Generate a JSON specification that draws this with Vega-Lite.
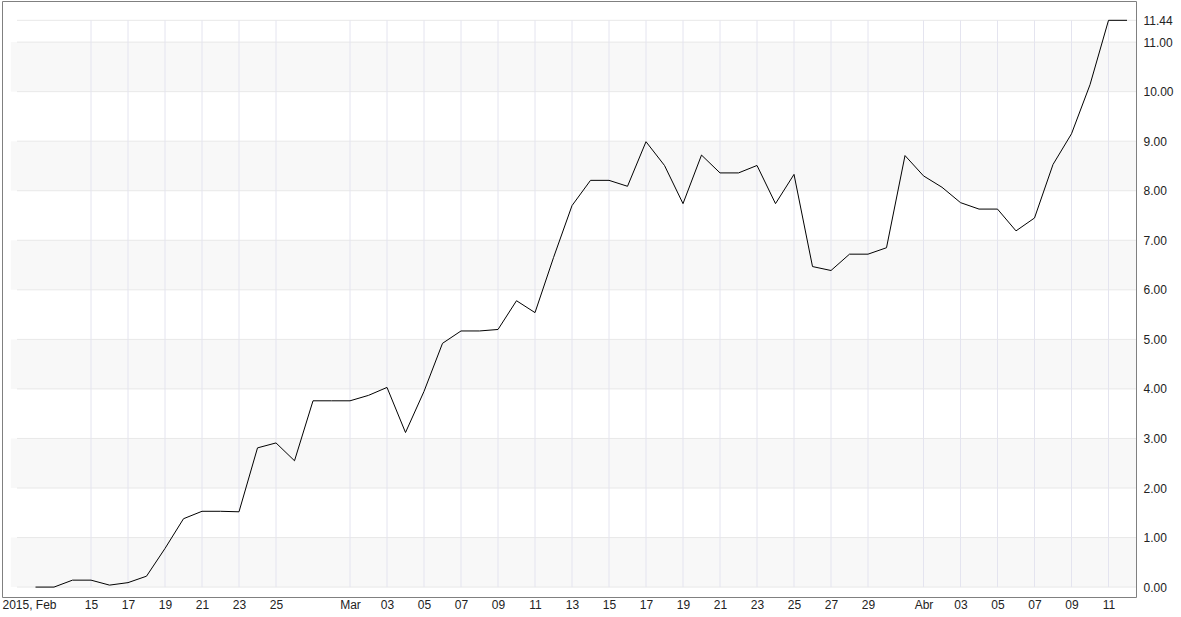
{
  "$schema": "https://vega.github.io/schema/vega-lite/v6.json",
  "width": 1134,
  "height": 596,
  "autosize": {"type": "none"},
  "padding": {"left": 2, "top": 1, "right": 45, "bottom": 20},
  "background": "white",
  "config": {
    "view": {"stroke": "#808080", "strokeWidth": 1},
    "font": "Liberation Sans",
    "axis": {"labelFont": "Liberation Sans", "labelFontSize": 12, "labelColor": "#222222"}
  },
  "datasets": {
    "series": [
      {"date": "2015-02-12", "v": 0.00},
      {"date": "2015-02-13", "v": 0.00},
      {"date": "2015-02-14", "v": 0.14},
      {"date": "2015-02-15", "v": 0.14},
      {"date": "2015-02-16", "v": 0.04},
      {"date": "2015-02-17", "v": 0.09},
      {"date": "2015-02-18", "v": 0.22},
      {"date": "2015-02-19", "v": 0.78},
      {"date": "2015-02-20", "v": 1.38},
      {"date": "2015-02-21", "v": 1.53},
      {"date": "2015-02-22", "v": 1.53},
      {"date": "2015-02-23", "v": 1.52},
      {"date": "2015-02-24", "v": 2.81},
      {"date": "2015-02-25", "v": 2.91},
      {"date": "2015-02-26", "v": 2.55},
      {"date": "2015-02-27", "v": 3.76},
      {"date": "2015-02-28", "v": 3.76},
      {"date": "2015-03-01", "v": 3.76},
      {"date": "2015-03-02", "v": 3.87},
      {"date": "2015-03-03", "v": 4.03},
      {"date": "2015-03-04", "v": 3.12},
      {"date": "2015-03-05", "v": 3.95},
      {"date": "2015-03-06", "v": 4.92},
      {"date": "2015-03-07", "v": 5.17},
      {"date": "2015-03-08", "v": 5.17},
      {"date": "2015-03-09", "v": 5.20},
      {"date": "2015-03-10", "v": 5.78},
      {"date": "2015-03-11", "v": 5.54},
      {"date": "2015-03-12", "v": 6.65},
      {"date": "2015-03-13", "v": 7.70},
      {"date": "2015-03-14", "v": 8.21},
      {"date": "2015-03-15", "v": 8.21},
      {"date": "2015-03-16", "v": 8.09},
      {"date": "2015-03-17", "v": 8.99},
      {"date": "2015-03-18", "v": 8.51},
      {"date": "2015-03-19", "v": 7.74},
      {"date": "2015-03-20", "v": 8.72},
      {"date": "2015-03-21", "v": 8.36},
      {"date": "2015-03-22", "v": 8.36},
      {"date": "2015-03-23", "v": 8.51},
      {"date": "2015-03-24", "v": 7.74},
      {"date": "2015-03-25", "v": 8.33},
      {"date": "2015-03-26", "v": 6.47},
      {"date": "2015-03-27", "v": 6.39},
      {"date": "2015-03-28", "v": 6.72},
      {"date": "2015-03-29", "v": 6.72},
      {"date": "2015-03-30", "v": 6.85},
      {"date": "2015-03-31", "v": 8.71},
      {"date": "2015-04-01", "v": 8.30},
      {"date": "2015-04-02", "v": 8.07},
      {"date": "2015-04-03", "v": 7.76},
      {"date": "2015-04-04", "v": 7.63},
      {"date": "2015-04-05", "v": 7.63},
      {"date": "2015-04-06", "v": 7.19},
      {"date": "2015-04-07", "v": 7.45},
      {"date": "2015-04-08", "v": 8.53},
      {"date": "2015-04-09", "v": 9.15},
      {"date": "2015-04-10", "v": 10.14},
      {"date": "2015-04-11", "v": 11.44},
      {"date": "2015-04-12", "v": 11.44}
    ],
    "bands": [
      {"lo": 0, "hi": 1},
      {"lo": 2, "hi": 3},
      {"lo": 4, "hi": 5},
      {"lo": 6, "hi": 7},
      {"lo": 8, "hi": 9},
      {"lo": 10, "hi": 11}
    ],
    "hlines": [
      {"y": 0}, {"y": 1}, {"y": 2}, {"y": 3}, {"y": 4}, {"y": 5},
      {"y": 6}, {"y": 7}, {"y": 8}, {"y": 9}, {"y": 10}, {"y": 11}, {"y": 11.44}
    ],
    "vlines": [
      {"date": "2015-02-15"}, {"date": "2015-02-17"}, {"date": "2015-02-19"},
      {"date": "2015-02-21"}, {"date": "2015-02-23"}, {"date": "2015-02-25"},
      {"date": "2015-03-01"}, {"date": "2015-03-03"}, {"date": "2015-03-05"},
      {"date": "2015-03-07"}, {"date": "2015-03-09"}, {"date": "2015-03-11"},
      {"date": "2015-03-13"}, {"date": "2015-03-15"}, {"date": "2015-03-17"},
      {"date": "2015-03-19"}, {"date": "2015-03-21"}, {"date": "2015-03-23"},
      {"date": "2015-03-25"}, {"date": "2015-03-27"}, {"date": "2015-03-29"},
      {"date": "2015-04-01"}, {"date": "2015-04-03"}, {"date": "2015-04-05"},
      {"date": "2015-04-07"}, {"date": "2015-04-09"}, {"date": "2015-04-11"}
    ]
  },
  "layer": [
    {
      "data": {"name": "bands"},
      "mark": {"type": "rect", "color": "#f8f8f8"},
      "encoding": {
        "x": {"datum": {"year": 2015, "month": 2, "date": 10, "hours": 16, "utc": true}, "type": "temporal"},
        "x2": {"datum": {"year": 2015, "month": 4, "date": 12, "hours": 11, "minutes": 40, "utc": true}},
        "y": {"field": "lo", "type": "quantitative"},
        "y2": {"field": "hi"}
      }
    },
    {
      "data": {"name": "hlines"},
      "mark": {"type": "rule", "color": "#e8e8e8", "strokeWidth": 1},
      "encoding": {
        "x": {"datum": {"year": 2015, "month": 2, "date": 11, "utc": true}, "type": "temporal"},
        "x2": {"datum": {"year": 2015, "month": 4, "date": 12, "hours": 11, "minutes": 40, "utc": true}},
        "y": {"field": "y", "type": "quantitative"}
      }
    },
    {
      "data": {"name": "vlines"},
      "mark": {"type": "rule", "color": "#e4e4ef", "strokeWidth": 1},
      "encoding": {
        "x": {"field": "date", "type": "temporal"},
        "y": {"datum": 0, "type": "quantitative"},
        "y2": {"datum": 11.44}
      }
    },
    {
      "data": {"name": "series"},
      "mark": {"type": "line", "color": "#000000", "strokeWidth": 1, "interpolate": "linear"},
      "encoding": {
        "x": {
          "field": "date",
          "type": "temporal",
          "scale": {
            "type": "utc",
            "domain": [
              {"year": 2015, "month": 2, "date": 10, "hours": 4, "minutes": 32, "utc": true},
              {"year": 2015, "month": 4, "date": 12, "hours": 11, "minutes": 40, "utc": true}
            ],
            "nice": false
          },
          "axis": {
            "title": null,
            "orient": "bottom",
            "grid": false,
            "ticks": false,
            "domain": false,
            "labelPadding": 2,
            "labelOverlap": false,
            "labelFlush": 5,
            "values": [
              {"year": 2015, "month": 2, "date": 10, "hours": 4, "minutes": 32, "utc": true},
              {"year": 2015, "month": 2, "date": 15, "utc": true},
              {"year": 2015, "month": 2, "date": 17, "utc": true},
              {"year": 2015, "month": 2, "date": 19, "utc": true},
              {"year": 2015, "month": 2, "date": 21, "utc": true},
              {"year": 2015, "month": 2, "date": 23, "utc": true},
              {"year": 2015, "month": 2, "date": 25, "utc": true},
              {"year": 2015, "month": 3, "date": 1, "utc": true},
              {"year": 2015, "month": 3, "date": 3, "utc": true},
              {"year": 2015, "month": 3, "date": 5, "utc": true},
              {"year": 2015, "month": 3, "date": 7, "utc": true},
              {"year": 2015, "month": 3, "date": 9, "utc": true},
              {"year": 2015, "month": 3, "date": 11, "utc": true},
              {"year": 2015, "month": 3, "date": 13, "utc": true},
              {"year": 2015, "month": 3, "date": 15, "utc": true},
              {"year": 2015, "month": 3, "date": 17, "utc": true},
              {"year": 2015, "month": 3, "date": 19, "utc": true},
              {"year": 2015, "month": 3, "date": 21, "utc": true},
              {"year": 2015, "month": 3, "date": 23, "utc": true},
              {"year": 2015, "month": 3, "date": 25, "utc": true},
              {"year": 2015, "month": 3, "date": 27, "utc": true},
              {"year": 2015, "month": 3, "date": 29, "utc": true},
              {"year": 2015, "month": 4, "date": 1, "utc": true},
              {"year": 2015, "month": 4, "date": 3, "utc": true},
              {"year": 2015, "month": 4, "date": 5, "utc": true},
              {"year": 2015, "month": 4, "date": 7, "utc": true},
              {"year": 2015, "month": 4, "date": 9, "utc": true},
              {"year": 2015, "month": 4, "date": 11, "utc": true}
            ],
            "labelExpr": "utcdate(datum.value) == 10 && utcmonth(datum.value) == 1 ? '2015, Feb' : (utcdate(datum.value) == 1 ? (utcmonth(datum.value) == 2 ? 'Mar' : 'Abr') : utcFormat(datum.value, '%d'))"
          }
        },
        "y": {
          "field": "v",
          "type": "quantitative",
          "scale": {"domain": [-0.2, 11.83], "nice": false, "zero": false},
          "axis": {
            "title": null,
            "orient": "right",
            "grid": false,
            "ticks": false,
            "domain": false,
            "labelPadding": 7,
            "labelOverlap": false,
            "values": [0, 1, 2, 3, 4, 5, 6, 7, 8, 9, 10, 11, 11.44],
            "format": ".2f"
          }
        }
      }
    }
  ]
}
